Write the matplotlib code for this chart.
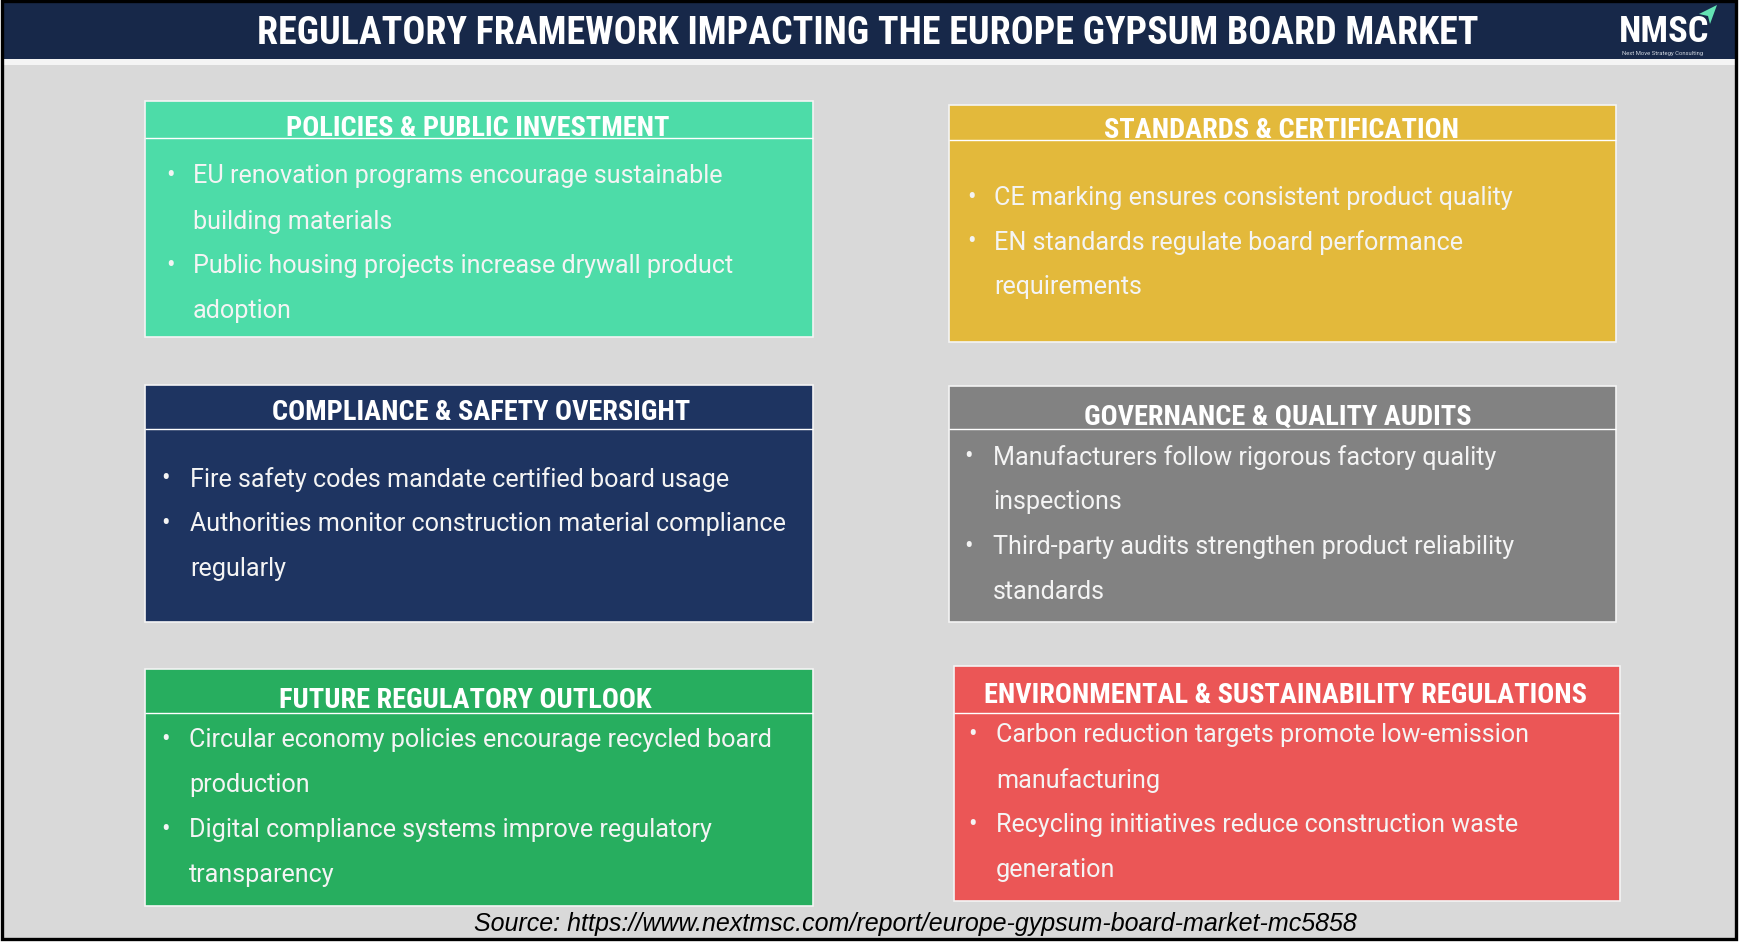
import matplotlib
matplotlib.use("Agg")
import matplotlib.pyplot as plt
from matplotlib.patches import Rectangle, Polygon
from matplotlib import font_manager

# chart content
main_title = "REGULATORY FRAMEWORK IMPACTING THE EUROPE GYPSUM BOARD MARKET"
source_text = "Source: https://www.nextmsc.com/report/europe-gypsum-board-market-mc5858"

box_titles = [
    "POLICIES & PUBLIC INVESTMENT",
    "STANDARDS & CERTIFICATION",
    "COMPLIANCE & SAFETY OVERSIGHT",
    "GOVERNANCE & QUALITY AUDITS",
    "FUTURE REGULATORY OUTLOOK",
    "ENVIRONMENTAL & SUSTAINABILITY REGULATIONS",
]
box_bullets = [
    ["EU renovation programs encourage sustainable\nbuilding materials",
     "Public housing projects increase drywall product\nadoption"],
    ["CE marking ensures consistent product quality",
     "EN standards regulate board performance\nrequirements"],
    ["Fire safety codes mandate certified board usage",
     "Authorities monitor construction material compliance\nregularly"],
    ["Manufacturers follow rigorous factory quality\ninspections",
     "Third-party audits strengthen product reliability\nstandards"],
    ["Circular economy policies encourage recycled board\nproduction",
     "Digital compliance systems improve regulatory\ntransparency"],
    ["Carbon reduction targets promote low-emission\nmanufacturing",
     "Recycling initiatives reduce construction waste\ngeneration"],
]
box_colors = ["#4ddca8", "#e3b93b", "#1e3461", "#828282", "#27ae5f", "#eb5656"]

# layout in pixels: left, top, right, bottom, header line, title y, first line y
box_layout = [
    (145, 102, 813, 338, 139, 128, 176.5),
    (949, 106, 1616, 343, 141, 131, 197.5),
    (145, 386, 813, 623, 430, 413, 479.5),
    (949, 387, 1616, 623, 430, 417, 457.5),
    (145, 670, 813, 907, 714, 701, 740.5),
    (954, 667, 1620, 902, 714, 696, 735.5),
]
# title x shift, bullet x offset, text x offset
box_offsets = [
    (-1, 21, 48),
    (-1, 18, 45),
    (2, 16.5, 45),
    (-5, 15.5, 44),
    (-14, 16, 44),
    (-2, 14.5, 42),
]
line_step = 45

W, H = 1739, 953
available = {f.name for f in font_manager.fontManager.ttflist}
cond = "Roboto Condensed" if "Roboto Condensed" in available else "Roboto"
body_font = "Roboto"

fig = plt.figure(figsize=(W / 100, H / 100), dpi=100)
ax = fig.add_axes([0, 0, 1, 1])
ax.set_xlim(0, W)
ax.set_ylim(H, 0)
ax.axis("off")
renderer = fig.canvas.get_renderer()


def fit_size(text, target, **kw):
    """font size that makes text about target pixels wide"""
    t = ax.text(0, 0, text, fontsize=20, **kw)
    w = t.get_window_extent(renderer).width
    t.remove()
    return 20 * target / w


# background, header band and frame
fig.patch.set_facecolor("white")
ax.add_patch(Rectangle((2, 2), 1733, 937, facecolor="#d9d9d9", edgecolor="none"))
ax.add_patch(Rectangle((2, 2), 1733, 58, facecolor="#172849", edgecolor="none"))
ax.add_patch(Rectangle((2, 60), 1733, 6, facecolor="#f4f4f4", edgecolor="none"))
ax.add_patch(Rectangle((1.5, 1.5), 1734, 938, facecolor="none", edgecolor="black", lw=2.4))

size = fit_size(main_title, 1220, family=cond, weight="bold")
ax.text(868, 34, main_title, fontsize=size, family=cond, weight="bold",
        color="white", ha="center", va="center")

# logo
size = fit_size("NMSC", 86, family=cond, weight="bold")
ax.text(1664, 32, "NMSC", fontsize=size * 1.05, family=cond, weight="bold",
        color="white", ha="center", va="center")
size = fit_size("Next Move Strategy Consulting", 80, family="Roboto")
ax.text(1663, 53, "Next Move Strategy Consulting", fontsize=size, family="Roboto",
        color="#d0d6e0", ha="center", va="center")
ax.add_patch(Polygon([(1699, 15), (1717, 6), (1710, 25), (1708, 17)],
                     closed=True, facecolor="#63e3b3", edgecolor="none"))

body_size = fit_size("EU renovation programs encourage sustainable", 528, family=body_font)
title_size = fit_size(box_titles[5], 604, family=cond, weight="bold")

for title, bullets, color, lay, off in zip(box_titles, box_bullets, box_colors,
                                           box_layout, box_offsets):
    x0, y0, x1, y1, yl, yt, yb = lay
    dx_title, dx_bullet, dx_text = off
    ax.add_patch(Rectangle((x0, y0), x1 - x0, y1 - y0, facecolor=color,
                           edgecolor="#f4f4f4", lw=1.2))
    ax.plot([x0, x1], [yl, yl], color="white", lw=1.0, solid_capstyle="butt")
    ax.text((x0 + x1) / 2 + dx_title, yt, title, fontsize=title_size, family=cond,
            weight="bold", color="white", ha="center", va="center")
    y = yb
    for b in bullets:
        parts = b.split("\n")
        ax.text(x0 + dx_bullet, y, "\u2022", fontsize=body_size, family=body_font,
                color="#f4f4f4", ha="left", va="center")
        for p in parts:
            ax.text(x0 + dx_text, y, p, fontsize=body_size, family=body_font,
                    color="#f4f4f4", ha="left", va="center")
            y += line_step

size = fit_size(source_text, 880, family="Liberation Sans", style="italic")
ax.text(915, 924.5, source_text, fontsize=size, family="Liberation Sans",
        style="italic", color="black", ha="center", va="center")

fig.savefig("out.png", dpi=100, facecolor="white")
